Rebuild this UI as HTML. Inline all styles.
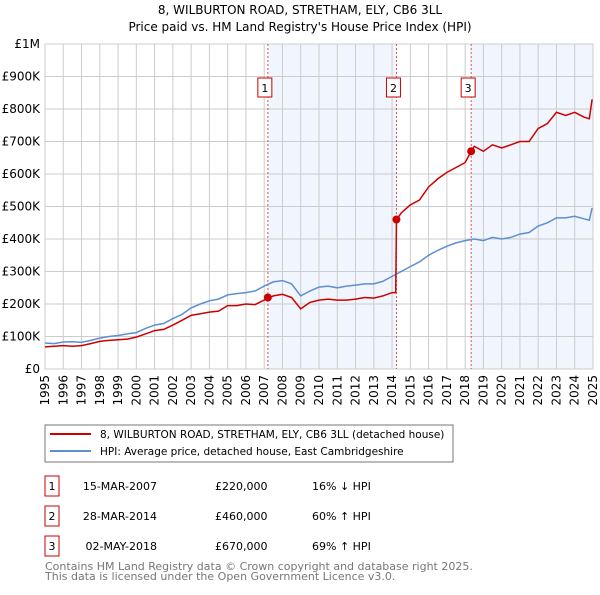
<!DOCTYPE html>
<html><head><meta charset="utf-8"><style>
body{margin:0;background:#fff;font-family:"Liberation Sans","DejaVu Sans",sans-serif;}
svg text{font-family:"DejaVu Sans","Liberation Sans",sans-serif;}
</style></head><body>
<svg id="c" width="600" height="590" xmlns="http://www.w3.org/2000/svg">
<text x="300" y="14" text-anchor="middle" font-size="12">8, WILBURTON ROAD, STRETHAM, ELY, CB6 3LL</text>
<text x="300" y="31" text-anchor="middle" font-size="12">Price paid vs. HM Land Registry's House Price Index (HPI)</text>
<g id="grid"></g><g id="series"></g>
<rect x="45" y="425" width="408" height="37" fill="#fff" stroke="#777"/>
<line x1="50" y1="434" x2="91" y2="434" stroke="#cc0000" stroke-width="2"/>
<text x="100" y="438" font-size="10.5">8, WILBURTON ROAD, STRETHAM, ELY, CB6 3LL (detached house)</text>
<line x1="50" y1="451" x2="91" y2="451" stroke="#5b8fd0" stroke-width="2"/>
<text x="100" y="455" font-size="10.5">HPI: Average price, detached house, East Cambridgeshire</text>
<g id="table"></g>
<text x="45" y="570" font-size="11" fill="#777">Contains HM Land Registry data © Crown copyright and database right 2025.</text>
<text x="45" y="580" font-size="11" fill="#777">This data is licensed under the Open Government Licence v3.0.</text>
</svg>
<script>
const hpiYears=[1995,1995.5,1996,1996.5,1997,1997.5,1998,1998.5,1999,1999.5,2000,2000.5,2001,2001.5,2002,2002.5,2003,2003.5,2004,2004.5,2005,2005.5,2006,2006.5,2007,2007.5,2008,2008.5,2009,2009.5,2010,2010.5,2011,2011.5,2012,2012.5,2013,2013.5,2014,2014.5,2015,2015.5,2016,2016.5,2017,2017.5,2018,2018.5,2019,2019.5,2020,2020.5,2021,2021.5,2022,2022.5,2023,2023.5,2024,2024.5,2024.8,2024.95];
const hpiValues=[80,78,83,84,82,88,95,100,103,108,112,125,135,140,155,168,188,200,210,215,228,232,235,240,255,268,272,262,225,240,252,255,250,255,258,262,262,270,285,300,315,330,350,365,378,388,395,400,395,405,400,405,415,420,440,450,465,465,470,462,458,495];
const priceYears=[1995,1995.5,1996,1996.5,1997,1997.5,1998,1998.5,1999,1999.5,2000,2000.5,2001,2001.5,2002,2002.5,2003,2003.5,2004,2004.5,2005,2005.5,2006,2006.5,2007,2007.5,2008,2008.5,2009,2009.5,2010,2010.5,2011,2011.5,2012,2012.5,2013,2013.5,2014,2014.2,2014.24,2014.5,2015,2015.5,2016,2016.5,2017,2017.5,2018,2018.33,2018.5,2019,2019.5,2020,2020.5,2021,2021.5,2022,2022.5,2023,2023.5,2024,2024.5,2024.8,2024.95];
const priceValues=[68,70,72,70,72,78,85,88,90,92,98,108,118,122,135,150,165,170,175,178,195,195,200,198,212,225,230,220,185,205,212,215,212,212,215,220,218,225,235,235,460,480,505,520,560,585,605,620,635,670,685,670,690,680,690,700,700,740,755,790,780,790,775,770,830];
const saleYears=[2007.2,2014.24,2018.33];
const saleValues=[220,460,670];
const saleLabels=["1","2","3"];
const saleDates=["15-MAR-2007","28-MAR-2014","02-MAY-2018"];
const salePrices=["£220,000","£460,000","£670,000"];
const saleHpi=["16% ↓ HPI","60% ↑ HPI","69% ↑ HPI"];
const yTicks=[0,100,200,300,400,500,600,700,800,900,1000];
const yTickLabels=["£0","£100K","£200K","£300K","£400K","£500K","£600K","£700K","£800K","£900K","£1M"];
const xTicks=[1995,1996,1997,1998,1999,2000,2001,2002,2003,2004,2005,2006,2007,2008,2009,2010,2011,2012,2013,2014,2015,2016,2017,2018,2019,2020,2021,2022,2023,2024,2025];
const NS="http://www.w3.org/2000/svg";
const X0=45,X1=593,Y0=369,Y1=44;
const sx=y=>X0+(y-1995)/30*(X1-X0);
const sy=v=>Y0-v/1000*(Y0-Y1);
function mk(tag,at,parent){const e=document.createElementNS(NS,tag);for(const k in at)e.setAttribute(k,at[k]);parent.appendChild(e);return e;}
const grid=document.getElementById('grid'),ser=document.getElementById('series'),tb=document.getElementById('table');
[[saleYears[0],saleYears[1]],[saleYears[2],2025]].forEach((r,i)=>{const e=mk('rect',{x:sx(r[0]),y:Y1,width:sx(r[1])-sx(r[0]),height:Y0-Y1,fill:'#eef3fc',opacity:0.8},grid);

});
yTicks.forEach((t,i)=>{const l=mk('line',{x1:X0,x2:X1,y1:sy(t),y2:sy(t),stroke:'#ccc'},grid);


const tx=mk('text',{x:X0-5,y:sy(t)+4,'text-anchor':'end','font-size':12},grid);tx.textContent=yTickLabels[i];

});
xTicks.forEach(t=>{const l=mk('line',{x1:sx(t),x2:sx(t),y1:Y1,y2:Y0,stroke:'#ccc'},grid);


const tx=mk('text',{x:0,y:0,'text-anchor':'end','font-size':12,transform:`translate(${sx(t)+4},${Y0+6}) rotate(-90)`},grid);tx.textContent=t;

});
mk('rect',{x:X0,y:Y1,width:X1-X0,height:Y0-Y1,fill:'none',stroke:'#ccc'},grid);
saleYears.forEach((y,i)=>{const l=mk('line',{x1:sx(y),x2:sx(y),y1:Y1,y2:Y0,stroke:'#e05050','stroke-dasharray':'2,2'},ser);

});
const pts=(xs,vs)=>xs.map((x,i)=>sx(x).toFixed(1)+','+sy(vs[i]).toFixed(1)).join(' ');
const h=mk('polyline',{points:pts(hpiYears,hpiValues),fill:'none',stroke:'#5b8fd0','stroke-width':1.5},ser);


const p=mk('polyline',{points:pts(priceYears,priceValues),fill:'none',stroke:'#cc0000','stroke-width':1.5},ser);


saleYears.forEach((y,i)=>{const c=mk('circle',{cx:sx(y),cy:sy(saleValues[i]),r:4,fill:'#cc0000'},ser);


const bx=sx(y)-10;
const r=mk('rect',{x:bx,y:78,width:14,height:19,fill:'#fff',stroke:'#cc0000'},ser);


const t=mk('text',{x:bx+7,y:92,'text-anchor':'middle','font-size':11},ser);t.textContent=saleLabels[i];


const ry=476+i*30;
const r2=mk('rect',{x:45,y:ry,width:14,height:20,fill:'#fff',stroke:'#cc0000'},tb);


[[52,saleLabels[i],'middle','num'],[157,saleDates[i],'end','date'],[215,salePrices[i],'start','price'],[312,saleHpi[i],'start','hpi']].forEach(c2=>{
const tt=mk('text',{x:c2[0],y:ry+14,'text-anchor':c2[2],'font-size':11},tb);tt.textContent=c2[1];

});});
</script>
</body></html>
